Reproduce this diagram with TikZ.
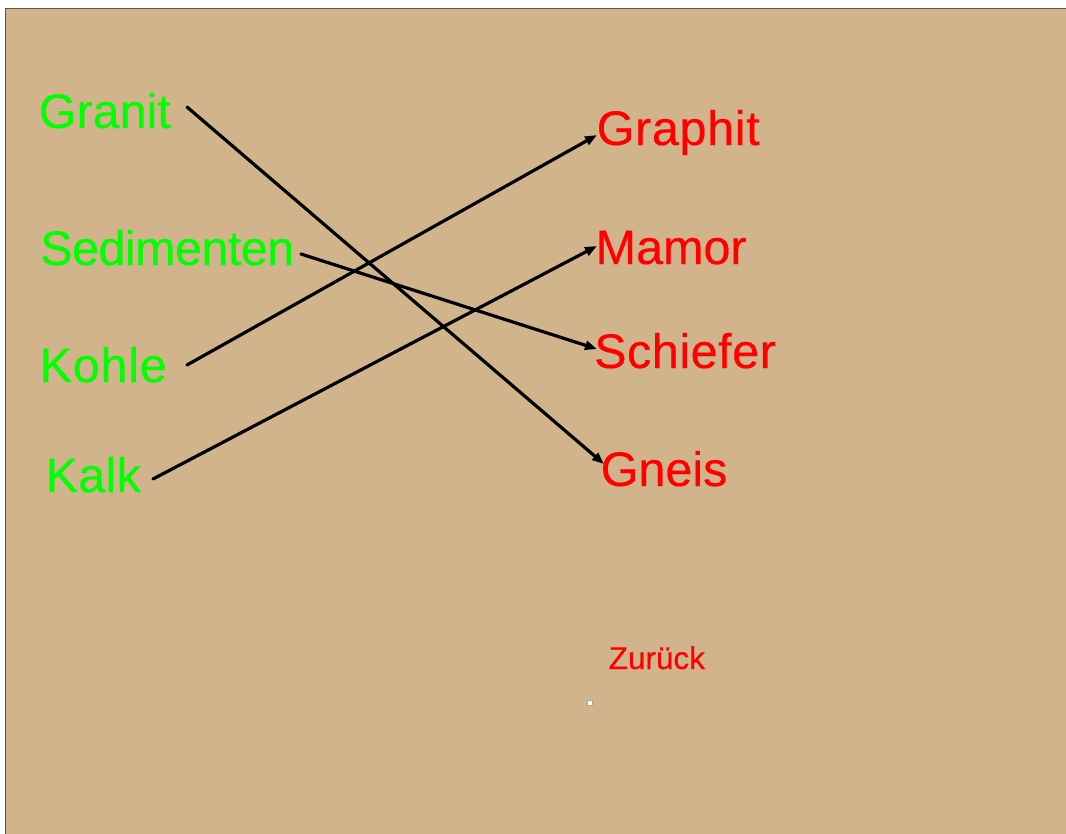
\documentclass[tikz,border=0pt]{standalone}
\usepackage{fontspec}
\setmainfont{Liberation Sans}
\newfontfamily\boldish{Liberation Sans}[FakeBold=0.4]
\usetikzlibrary{arrows.meta}
\definecolor{tanbg}{RGB}{210,180,140}
\definecolor{framegray}{RGB}{90,85,80}
\definecolor{lgreen}{RGB}{0,255,0}
\definecolor{lred}{RGB}{255,0,0}
\newcommand{\lsp}[1]{\addfontfeatures{LetterSpace=#1}}
\begin{document}
\begin{tikzpicture}[x=1pt,y=-1pt,
  lefttxt/.style={anchor=base west,inner sep=0pt,text=lgreen,font=\boldish\fontsize{48.5}{58}\selectfont},
  righttxt/.style={anchor=base west,inner sep=0pt,text=lred,font=\boldish\fontsize{48.5}{58}\selectfont},
  conn/.style={draw=black,line width=3.2pt,line cap=round,-{Triangle[length=12pt,width=9pt]}}]
\useasboundingbox (0,0) rectangle (1066,833);
\fill[white] (0,0) rectangle (1066,833);
\filldraw[fill=tanbg,draw=framegray,line width=1.6pt] (5.5,840) -- (5.5,8.5) -- (1075,8.5) -- (1075,840) -- cycle;
% left words
\node[lefttxt] (granit) at (38.6,128) {Granit};
\node[lefttxt] (sedimenten) at (40,265) {\lsp{-1.1}Sedimenten};
\node[lefttxt] (kohle) at (39.5,382) {\lsp{1.6}Kohle};
\node[lefttxt] (kalk) at (45.5,492) {\lsp{0.6}Kalk};
% right words
\node[righttxt] (graphit) at (596.5,145) {\lsp{1.4}Graphit};
\node[righttxt] (mamor) at (595.5,264) {Mamor};
\node[righttxt] (schiefer) at (594,368) {\lsp{1.1}Schiefer};
\node[righttxt] (gneis) at (600.5,486) {Gneis};
\node[anchor=base west,inner sep=0pt,text=lred,font=\boldish\fontsize{31.5}{38}\selectfont] (zurueck) at (608.5,669) {Zurück};
% tiny icon
\node[draw=gray!70,fill=white,line width=0.6pt,minimum width=5pt,minimum height=5pt,inner sep=0pt] (icon) at (590,703) {};
% connector end points
\coordinate (granitOut) at (187,107);
\coordinate (sedOut) at (301,254);
\coordinate (kohleOut) at (187,365);
\coordinate (kalkOut) at (153,479);
\coordinate (graphitIn) at (597,135);
\coordinate (mamorIn) at (597,246);
\coordinate (schieferIn) at (597,349);
\coordinate (gneisIn) at (604,464);
\draw[conn] (granitOut) -- (gneisIn);
\draw[conn] (sedOut) -- (schieferIn);
\draw[conn] (kohleOut) -- (graphitIn);
\draw[conn] (kalkOut) -- (mamorIn);
\end{tikzpicture}
\end{document}
